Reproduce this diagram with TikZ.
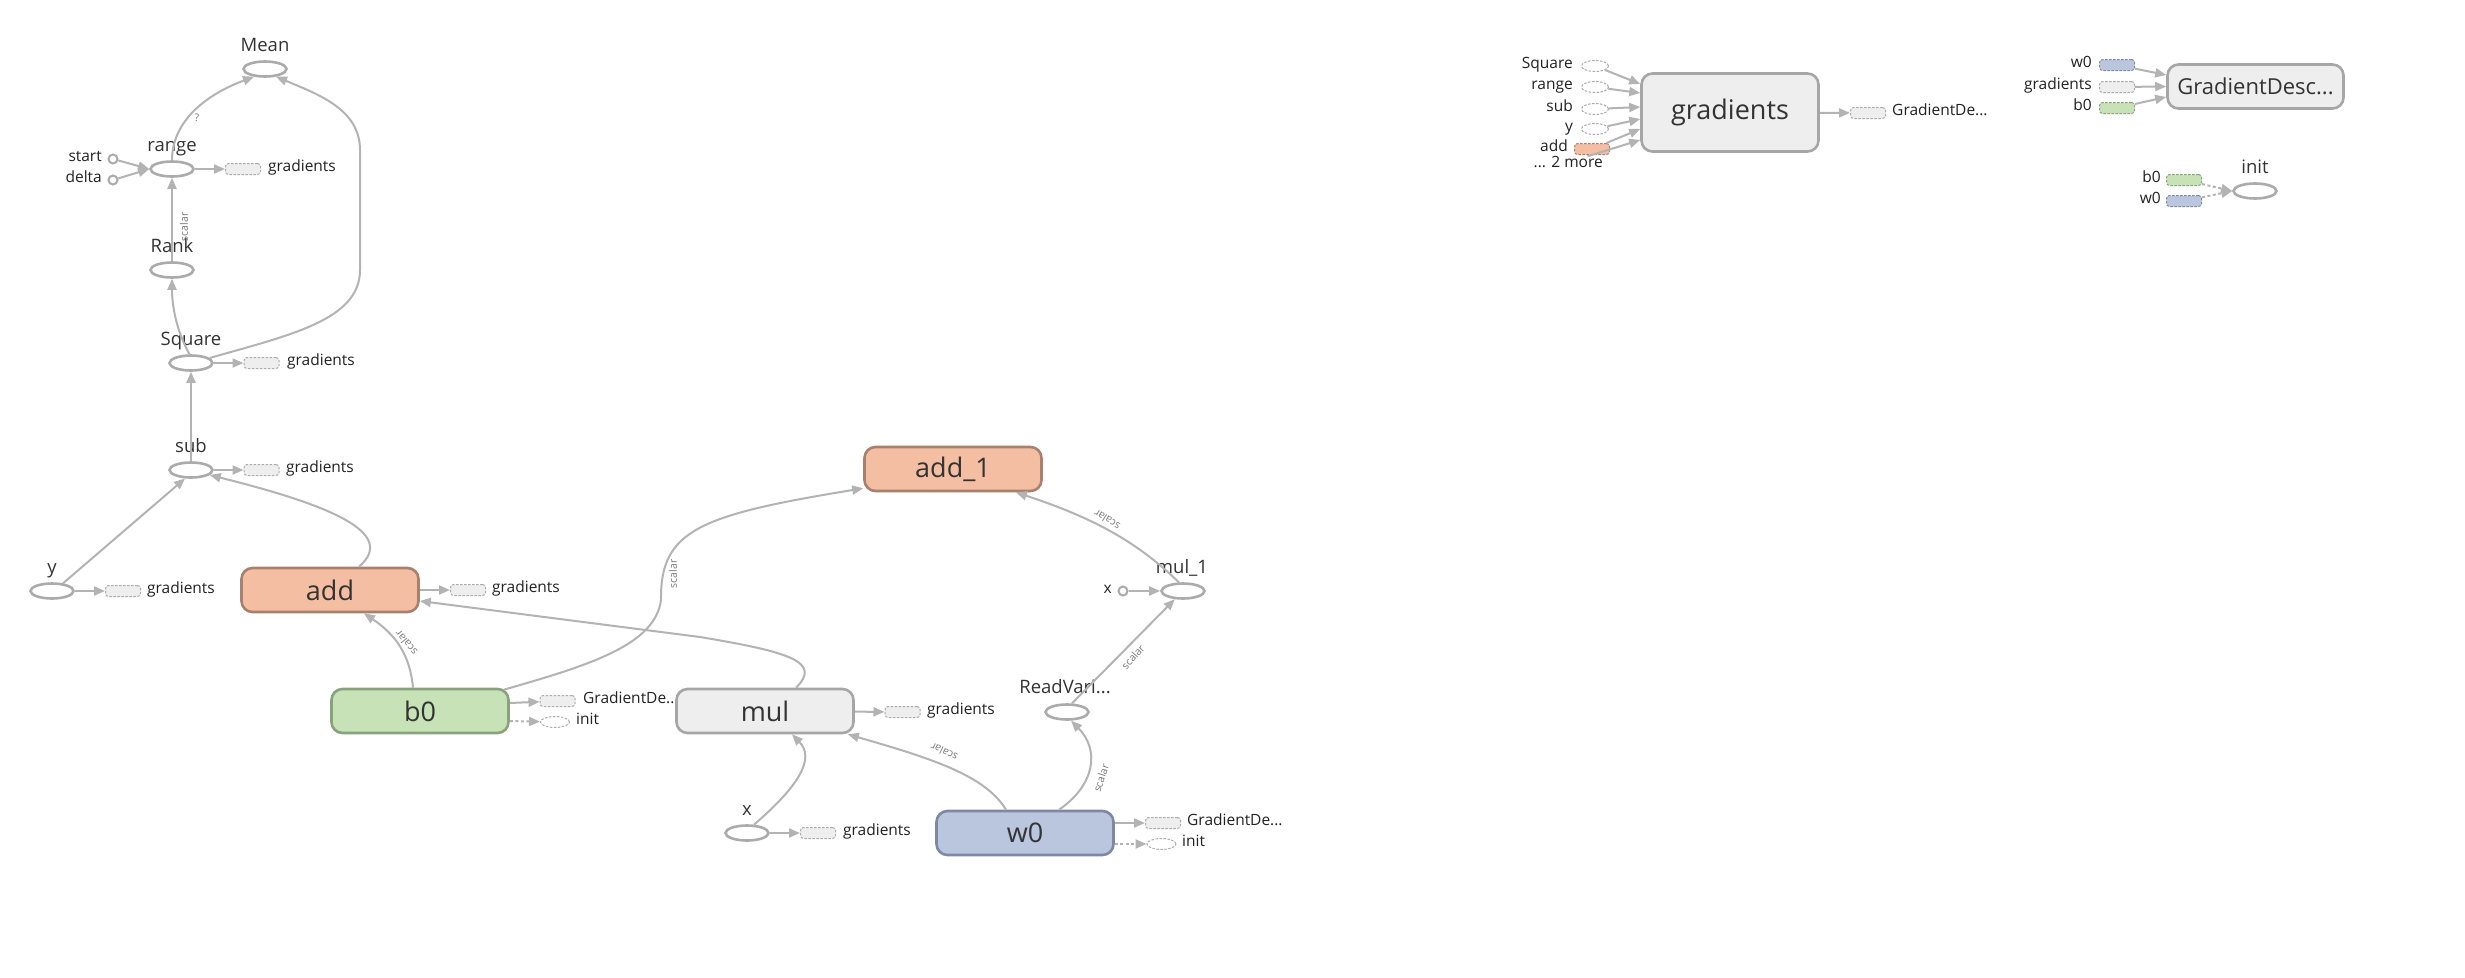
\documentclass[tikz,border=0pt]{standalone}
\usepackage{fontspec}
\setmainfont{Open Sans}
\usetikzlibrary{arrows.meta,shapes.geometric}
\definecolor{edgec}{HTML}{B3B3B3}
\definecolor{ringc}{HTML}{ABABAB}
\definecolor{txtc}{HTML}{333333}
\definecolor{smallc}{HTML}{222222}
\definecolor{lblc}{HTML}{7A7A7A}
\definecolor{opfill}{HTML}{EEEEEE}
\definecolor{opdraw}{HTML}{A6A6A6}
\definecolor{sfill}{HTML}{EEEEEE}
\definecolor{sdraw}{HTML}{ABABAB}
\definecolor{addfill}{HTML}{F4BEA3}
\definecolor{adddraw}{HTML}{A8806E}
\definecolor{bfill}{HTML}{C6E2B6}
\definecolor{bdraw}{HTML}{88A27B}
\definecolor{wfill}{HTML}{BAC6DE}
\definecolor{wdraw}{HTML}{7D89A3}

\begin{document}
\begin{tikzpicture}[x=1pt,y=-1pt,
  opnode/.style={ellipse,draw=ringc,line width=2.6pt,fill=white,minimum width=43pt,minimum height=15pt,inner sep=0pt},
  constnode/.style={circle,draw=ringc,line width=2pt,fill=white,minimum size=9pt,inner sep=0pt},
  bigbox/.style={rectangle,rounded corners=11pt,line width=2.6pt,minimum width=177pt,minimum height=44pt,inner sep=0pt,text=txtc,font=\fontsize{27}{30}\selectfont},
  graybox/.style={bigbox,draw=opdraw,fill=opfill},
  addbox/.style={bigbox,draw=adddraw,fill=addfill},
  bbox/.style={bigbox,draw=bdraw,fill=bfill},
  wbox/.style={bigbox,draw=wdraw,fill=wfill},
  sumrect/.style={rectangle,rounded corners=3pt,draw=sdraw,fill=sfill,line width=1pt,dash pattern=on 2.5pt off 1.5pt,minimum width=35pt,minimum height=11pt,inner sep=0pt},
  sumell/.style={ellipse,draw=sdraw,fill=white,line width=1pt,dash pattern=on 2.5pt off 1.5pt,minimum width=29pt,minimum height=11pt,inner sep=0pt},
  opname/.style={anchor=base,inner sep=0pt,text=txtc,font=\fontsize{18.5}{20}\selectfont},
  sumlbl/.style={anchor=mid west,inner sep=0pt,text=smallc,font=\fontsize{15.5}{17}\selectfont},
  inlbl/.style={anchor=mid east,inner sep=0pt,text=smallc,font=\fontsize{15.5}{17}\selectfont},
  elbl/.style={inner sep=0pt,text=lblc,font=\fontsize{10.5}{12}\selectfont},
  conn/.style={draw=edgec,line width=2pt,-{Triangle[length=11pt,width=9pt]}},
  ctrlconn/.style={conn,dash pattern=on 3pt off 2.5pt},
]
\useasboundingbox (0,0) rectangle (2465,977);
\fill[white] (0,0) rectangle (2465,977);

% ---------- main graph: loss branch ----------
\node[opnode] (Mean) at (265,69) {};
\node[opname] (MeanT) at (265,51) {Mean};
\node[opnode] (range) at (172,169) {};
\node[opname] (rangeT) at (172,151) {range};
\node[constnode] (start) at (113,159) {};
\node[inlbl] (startT) at (102,159) {start};
\node[constnode] (delta) at (113,180) {};
\node[inlbl] (deltaT) at (102,180) {delta};
\node[sumrect] (rangeG) at (243,169) {};
\node[sumlbl] (rangeGT) at (268,169) {gradients};
\node[opnode] (Rank) at (172,270) {};
\node[opname] (RankT) at (172,252) {Rank};
\node[opnode] (Square) at (191,363) {};
\node[opname] (SquareT) at (191,345) {Square};
\node[sumrect] (sqG) at (261.5,363) {};
\node[sumlbl] (sqGT) at (287,363) {gradients};
\node[opnode] (sub) at (191,470) {};
\node[opname] (subT) at (191,452) {sub};
\node[sumrect] (subG) at (261.5,470) {};
\node[sumlbl] (subGT) at (286,470) {gradients};
\node[opnode] (y) at (52,591) {};
\node[opname] (yT) at (52,573) {y};
\node[sumrect] (yG) at (123,591) {};
\node[sumlbl] (yGT) at (147,591) {gradients};

% ---------- model ----------
\node[addbox] (add) at (330,590) {add};
\node[sumrect] (addG) at (468,590) {};
\node[sumlbl] (addGT) at (492,590) {gradients};
\node[bbox] (b0) at (420,711) {b0};
\node[sumrect] (b0G) at (557.5,701) {};
\node[sumlbl] (b0GT) at (583,701) {GradientDe...};
\node[sumell] (b0I) at (555,722) {};
\node[sumlbl] (b0IT) at (576,722) {init};
\node[graybox] (mul) at (765,711) {mul};
\node[sumrect] (mulG) at (902.5,712) {};
\node[sumlbl] (mulGT) at (927,712) {gradients};
\node[opnode] (x) at (747,833) {};
\node[opname] (xT) at (747,815) {x};
\node[sumrect] (xG) at (818,833) {};
\node[sumlbl] (xGT) at (843,833) {gradients};
\node[wbox] (w0) at (1025,833) {w0};
\node[sumrect] (w0G) at (1163,823) {};
\node[sumlbl] (w0GT) at (1187,823) {GradientDe...};
\node[sumell] (w0I) at (1161.5,844) {};
\node[sumlbl] (w0IT) at (1182,844) {init};
\node[opnode] (read) at (1067,712) {};
\node[opname] (readT) at (1065,693) {ReadVari...};
\node[opnode] (mul1) at (1183,591) {};
\node[opname] (mul1T) at (1182,573) {mul\_1};
\node[constnode] (x1) at (1123,591) {};
\node[inlbl] (x1T) at (1112,591) {x};
\node[addbox] (add1) at (953,469) {add\_1};

% ---------- edges ----------
\draw[conn] (start) -- (range.west);
\draw[conn] (delta) -- (range.west);
\draw[conn] (range) -- (rangeG);
\draw[conn] (Rank) -- (range);
\node[elbl,rotate=90] (lblRank) at (184,227) {scalar};
\draw[conn] (Square.100) .. controls (176,330) and (172,305) .. (Rank.south);
\draw[conn] (Square) -- (sqG);
\draw[conn] (sub) -- (Square);
\draw[conn] (sub) -- (subG);
\draw[conn] (y.35) -- (sub.235);
\draw[conn] (y) -- (yG);
\draw[conn] (range.north) .. controls (172,125) and (200,97) .. (Mean.215);
\node[elbl] (lblMean) at (197,118) {?};
\draw[conn] (Square.15) .. controls (290,335) and (360,320) .. (360,270) -- (360,150)
  .. controls (360,110) and (320,95) .. (Mean.-35);
\draw[conn] ([xshift=29pt]add.north) .. controls (398,533) and (330,505) .. (sub.-15);
\draw[conn] (add) -- (addG);
\draw[conn] ([xshift=-7pt]b0.north) .. controls (410,655) and (396,635) .. ([xshift=34pt]add.south);
\node[elbl,rotate=129] (lblB0) at (406,643) {scalar};
\draw[conn] ([xshift=-6pt,yshift=-2pt]b0.north east) .. controls (590,665) and (655,645) .. (661,600)
  .. controls (660,530) and (700,515) .. ([yshift=4pt]add1.south west);
\node[elbl,rotate=90] (lblB0b) at (673,574) {scalar};
\draw[conn] ([xshift=31pt]mul.north) .. controls (822,662) and (790,652) .. (700,637) -- ([yshift=-11pt]add.east);
\draw[conn] (mul) -- (mulG);
\draw[conn] (x.50) .. controls (800,785) and (815,758) .. ([xshift=27pt]mul.south);
\draw[conn] (x) -- (xG);
\draw[conn] ([xshift=-19pt]w0.north) .. controls (985,775) and (930,758) .. ([xshift=-7pt]mul.south east);
\node[elbl,rotate=155] (lblW0) at (944,752) {scalar};
\draw[conn] ([xshift=34pt]w0.north) .. controls (1095,785) and (1100,750) .. (read.-65);
\node[elbl,rotate=72] (lblW0b) at (1101,778) {scalar};
\draw[conn] (read.60) -- (mul1.225);
\node[elbl,rotate=48] (lblRead) at (1133,657) {scalar};
\draw[conn] (x1) -- (mul1);
\draw[conn] (mul1.115) .. controls (1140,545) and (1100,520) .. ([xshift=-27pt]add1.south east);
\node[elbl,rotate=148] (lblMul1) at (1107,520) {scalar};
\draw[conn] ([yshift=8pt]b0.east) -- (b0G);
\draw[ctrlconn] ([yshift=-10pt]b0.east) -- (b0I);
\draw[conn] ([yshift=10pt]w0.east) -- (w0G);
\draw[ctrlconn] ([yshift=-11pt]w0.east) -- (w0I);

% ---------- gradients group ----------
\node[graybox,minimum height=78pt] (grad) at (1730,112.5) {gradients};
\node[sumell,minimum width=27pt] (gSq) at (1595,66) {};
\node[inlbl] (gSqT) at (1573,66) {Square};
\node[sumell,minimum width=27pt] (gRg) at (1595,87) {};
\node[inlbl] (gRgT) at (1573,87) {range};
\node[sumell,minimum width=27pt] (gSub) at (1595,109) {};
\node[inlbl] (gSubT) at (1573,109) {sub};
\node[sumell,minimum width=27pt] (gY) at (1595,129) {};
\node[inlbl] (gYT) at (1573,129) {y};
\node[sumrect,fill=addfill,draw=adddraw] (gAdd) at (1592,149) {};
\node[inlbl] (gAddT) at (1568,149) {add};
\node[inlbl] (gMore) at (1603,165) {... 2 more};
\node[sumrect] (gOut) at (1868,113) {};
\node[sumlbl] (gOutT) at (1892,113) {GradientDe...};
\draw[conn] (gSq) -- ([yshift=28.5pt]grad.west);
\draw[conn] (gRg) -- ([yshift=19.5pt]grad.west);
\draw[conn] (gSub) -- ([yshift=5.5pt]grad.west);
\draw[conn] (gY) -- ([yshift=-6.5pt]grad.west);
\draw[conn] (gAdd) -- ([yshift=-16.5pt]grad.west);
\draw[conn] (gMore) -- ([yshift=-27.5pt]grad.west);
\draw[conn] (grad) -- (gOut);

% ---------- optimizer group ----------
\node[graybox,minimum width=176pt] (gd) at (2255.5,86.5) {\fontsize{22}{24}\selectfont GradientDesc...};
\node[sumrect,fill=wfill,draw=wdraw] (gdW) at (2117,65) {};
\node[inlbl] (gdWT) at (2092,65) {w0};
\node[sumrect] (gdG) at (2117,87) {};
\node[inlbl] (gdGT) at (2092,87) {gradients};
\node[sumrect,fill=bfill,draw=bdraw] (gdB) at (2117,108) {};
\node[inlbl] (gdBT) at (2092,108) {b0};
\draw[conn] (gdW) -- ([yshift=11.5pt]gd.west);
\draw[conn] (gdG) -- (gd.west);
\draw[conn] (gdB) -- ([yshift=-10.5pt]gd.west);

% ---------- init group ----------
\node[opnode] (init) at (2255,191) {};
\node[opname] (initT) at (2255,173) {init};
\node[sumrect,fill=bfill,draw=bdraw] (iB) at (2184,180) {};
\node[inlbl] (iBT) at (2161,180) {b0};
\node[sumrect,fill=wfill,draw=wdraw] (iW) at (2184,201) {};
\node[inlbl] (iWT) at (2161,201) {w0};
\draw[ctrlconn] (iB) -- (init.west);
\draw[ctrlconn] (iW) -- (init.west);
\end{tikzpicture}
\end{document}
